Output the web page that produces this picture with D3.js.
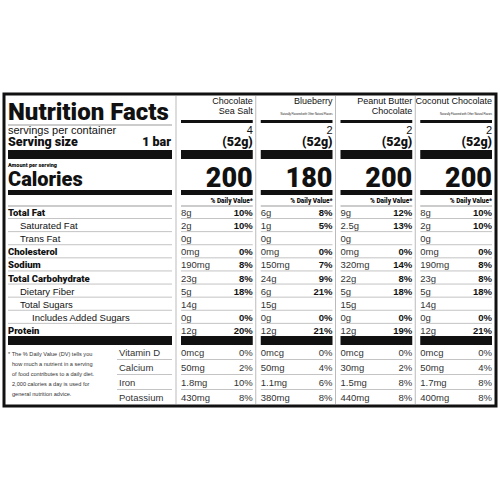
<!DOCTYPE html>
<html><head><meta charset="utf-8">
<script src="https://cdn.jsdelivr.net/npm/d3@7"></script>
<style>body{margin:0;background:#fff}text{font-family:"Liberation Sans",Arial,sans-serif;fill:#111}</style>
</head><body><div id="chart"></div>
<script>
// data
var products = [["Chocolate","Sea Salt"],["Blueberry"],["Peanut Butter","Chocolate"],["Coconut Chocolate"]];
var subtitles = ["", "Naturally Flavored with Other Natural Flavors", "", "Naturally Flavored with Other Natural Flavors"];
var servings = ["4","2","2","2"];
var calories = [200,180,200,200];
var nutrients = ["Total Fat","Saturated Fat","Trans Fat","Cholesterol","Sodium","Total Carbohydrate","Dietary Fiber","Total Sugars","Includes Added Sugars","Protein"];
var nutrientIndent = [0,1,1,0,0,0,1,1,2,0];
var amounts = [
  ["8g","2g","0g","0mg","190mg","23g","5g","14g","0g","12g"],
  ["6g","1g","0g","0mg","150mg","24g","6g","15g","0g","12g"],
  ["9g","2.5g","0g","0mg","320mg","22g","5g","15g","0g","12g"],
  ["8g","2g","0g","0mg","190mg","23g","5g","14g","0g","12g"]];
var dvs = [
  ["10%","10%","","0%","8%","8%","18%","","0%","20%"],
  ["8%","5%","","0%","7%","9%","21%","","0%","21%"],
  ["12%","13%","","0%","14%","8%","18%","","0%","19%"],
  ["10%","10%","","0%","8%","8%","18%","","0%","21%"]];
var vitamins = ["Vitamin D","Calcium","Iron","Potassium"];
var vitAmounts = [["0mcg","50mg","1.8mg","430mg"],["0mcg","50mg","1.1mg","380mg"],["0mcg","30mg","1.5mg","440mg"],["0mcg","50mg","1.7mg","400mg"]];
var vitDvs = [["0%","2%","10%","8%"],["0%","4%","6%","8%"],["0%","2%","8%","8%"],["0%","4%","8%","8%"]];
var footnote = ["* The % Daily Value (DV) tells you","how much a nutrient in a serving","of food contributes to a daily diet.","2,000 calories a day is used for","general nutrition advice."];

var w = 500, h = 500;
var svg = d3.select("#chart").append("svg").attr("width", w).attr("height", h);
var bold = new Set([0,3,4,5,9]);
var heavy = "Roboto, 'DejaVu Sans', sans-serif";

// scales
var x = d3.scaleBand().domain(d3.range(products.length)).range([176, 495]);
var y = d3.scaleLinear().domain([0, nutrients.length - 1]).range([212, 330]);
var yv = d3.scaleLinear().domain([0, vitamins.length - 1]).range([352, 397]);
var L = 8, R = 172; // left column edges

// frame
svg.append("rect").attr("x", 4).attr("y", 94).attr("width", 492).attr("height", 312)
  .attr("fill", "none").attr("stroke", "#111").attr("stroke-width", 3);
svg.selectAll(".div").data(d3.range(products.length)).enter().append("line")
  .attr("x1", d => x(d)).attr("x2", d => x(d)).attr("y1", 96).attr("y2", 404)
  .attr("stroke", "#bbb").attr("stroke-width", 1);

// left column header
svg.append("text").attr("x", L).attr("y", 120).style("font-family", heavy).style("font-weight", 900)
  .style("font-size", "24px").text("Nutrition Facts");
svg.append("line").attr("x1", L).attr("x2", R).attr("y1", 125).attr("y2", 125).attr("stroke", "#999");
svg.append("text").attr("x", L).attr("y", 134).style("font-size", "11px").text("servings per container");
svg.append("text").attr("x", L).attr("y", 146).style("font-family", heavy).style("font-weight", 900).style("font-size", "12.5px").text("Serving size");
svg.append("text").attr("x", R - 1).attr("y", 146).attr("text-anchor", "end").style("font-family", heavy).style("font-weight", 900).style("font-size", "12.5px").text("1 bar");
svg.append("rect").attr("x", L).attr("y", 150).attr("width", R - L).attr("height", 9).attr("fill", "#111");
svg.append("text").attr("x", L).attr("y", 167).style("font-family", heavy).style("font-weight", 900).style("font-size", "5.5px").text("Amount per serving");
svg.append("text").attr("x", L).attr("y", 186).style("font-family", heavy).style("font-weight", 900).style("font-size", "20px").text("Calories");
svg.append("rect").attr("x", L).attr("y", 190).attr("width", R - L).attr("height", 5).attr("fill", "#111");

// column headers
var col = svg.selectAll(".col").data(d3.range(products.length)).enter().append("g")
  .attr("transform", d => "translate(" + x(d) + ",0)");
var cl = 5, cr = x.bandwidth() - 3;
col.each(function(i) {
  var g = d3.select(this);
  products[i].forEach(function(s, k) {
    g.append("text").attr("x", cr).attr("y", 104 + k * 10).attr("text-anchor", "end").style("font-size", "9px").text(s);
  });
  if (subtitles[i]) g.append("text").attr("x", cr).attr("y", 115).attr("text-anchor", "end").style("font-size", "2.6px").text(subtitles[i]);
  g.append("rect").attr("x", cl).attr("y", 120).attr("width", cr - cl).attr("height", 3).attr("fill", "#111");
  g.append("text").attr("x", cr).attr("y", 134).attr("text-anchor", "end").style("font-size", "11px").text(servings[i]);
  g.append("text").attr("x", cr).attr("y", 146).attr("text-anchor", "end").style("font-family", heavy).style("font-weight", 900).style("font-size", "12.5px").text("(52g)");
  g.append("rect").attr("x", cl).attr("y", 150).attr("width", cr - cl).attr("height", 9).attr("fill", "#111");
  g.append("text").attr("x", cr).attr("y", 187).attr("text-anchor", "end").style("font-family", heavy).style("font-weight", 900).style("font-size", "27px").text(calories[i]);
  g.append("rect").attr("x", cl).attr("y", 190).attr("width", cr - cl).attr("height", 5).attr("fill", "#111");
  g.append("text").attr("x", cr).attr("y", 203).attr("text-anchor", "end").style("font-family", heavy).style("font-weight", 900).style("font-size", "6.5px").text("% Daily Value*");
  g.append("line").attr("x1", cl).attr("x2", cr).attr("y1", 206).attr("y2", 206).attr("stroke", "#999");
  nutrients.forEach(function(n, j) {
    g.append("text").attr("x", cl).attr("y", y(j) + 4).style("font-size", "9.5px").style("fill", "#333").text(amounts[i][j]);
    g.append("text").attr("x", cr).attr("y", y(j) + 4).attr("text-anchor", "end").style("font-size", "9.5px")
      .style("font-weight", "bold").text(dvs[i][j]);
    if (j < nutrients.length - 1)
      g.append("line").attr("x1", cl).attr("x2", cr).attr("y1", y(j) + 6.5).attr("y2", y(j) + 6.5).attr("stroke", "#aaa").attr("stroke-width", 0.7);
  });
  g.append("rect").attr("x", cl).attr("y", 336).attr("width", cr - cl).attr("height", 9).attr("fill", "#111");
  vitamins.forEach(function(v, j) {
    g.append("text").attr("x", cl).attr("y", yv(j) + 4).style("font-size", "9.5px").style("fill", "#333").text(vitAmounts[i][j]);
    g.append("text").attr("x", cr).attr("y", yv(j) + 4).attr("text-anchor", "end").style("font-size", "9.5px").style("fill", "#333").text(vitDvs[i][j]);
    if (j < vitamins.length - 1)
      g.append("line").attr("x1", cl).attr("x2", cr).attr("y1", yv(j) + 7.5).attr("y2", yv(j) + 7.5).attr("stroke", "#aaa").attr("stroke-width", 0.7);
  });
});

// left nutrient labels
svg.append("line").attr("x1", L).attr("x2", R).attr("y1", 206).attr("y2", 206).attr("stroke", "#999");
nutrients.forEach(function(n, j) {
  var b = bold.has(j);
  svg.append("text").attr("x", L + nutrientIndent[j] * 12).attr("y", y(j) + 4)
    .style("font-family", b ? heavy : null).style("font-weight", b ? 900 : "normal")
    .style("font-size", "9.5px").text(n);
  if (j < nutrients.length - 1)
    svg.append("line").attr("x1", L).attr("x2", R).attr("y1", y(j) + 6.5).attr("y2", y(j) + 6.5).attr("stroke", "#aaa").attr("stroke-width", 0.7);
});
svg.append("rect").attr("x", L).attr("y", 336).attr("width", R - L).attr("height", 9).attr("fill", "#111");

// vitamins + footnote
vitamins.forEach(function(v, j) {
  svg.append("text").attr("x", 119).attr("y", yv(j) + 4).style("font-size", "9.5px").style("fill", "#333").text(v);
  if (j < vitamins.length - 1)
    svg.append("line").attr("x1", 117).attr("x2", R).attr("y1", yv(j) + 7.5).attr("y2", yv(j) + 7.5).attr("stroke", "#aaa").attr("stroke-width", 0.7);
});
footnote.forEach(function(s, k) {
  svg.append("text").attr("x", k ? 12 : 8).attr("y", 356 + k * 10).style("font-size", "5.6px").style("fill", "#333").text(s);
});
</script></body></html>
